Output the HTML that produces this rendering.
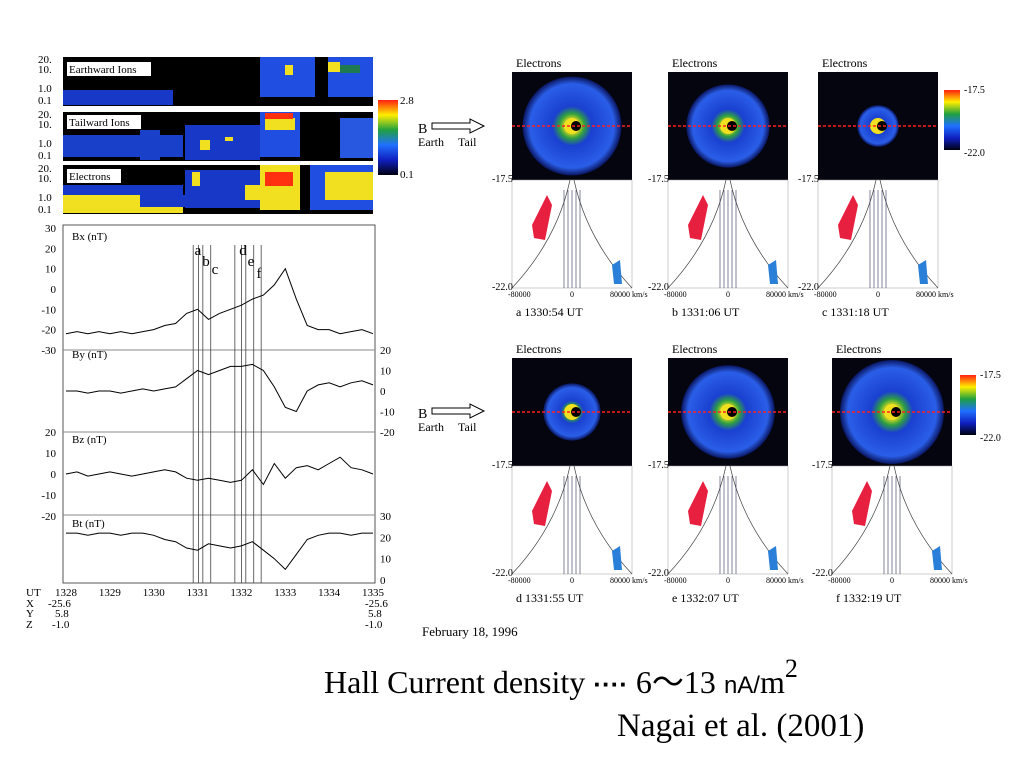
<!DOCTYPE html>
<html><head><meta charset="utf-8"><style>
body{margin:0;background:#fff;width:1024px;height:768px;overflow:hidden;font-family:"Liberation Serif",serif}
svg{position:absolute;left:0;top:0}
</style></head><body>
<svg width="1024" height="768" viewBox="0 0 1024 768" font-family="Liberation Serif, serif">
<defs>
<radialGradient id="disc" cx="50%" cy="50%" r="50%">
<stop offset="0" stop-color="#000"/><stop offset="0.12" stop-color="#f0e020"/><stop offset="0.25" stop-color="#30a040"/><stop offset="0.4" stop-color="#1a40d0"/><stop offset="0.85" stop-color="#2a5ee8"/><stop offset="1" stop-color="#0a1660"/>
</radialGradient>
<linearGradient id="cbar" x1="0" y1="0" x2="0" y2="1">
<stop offset="0" stop-color="#ff2010"/><stop offset="0.2" stop-color="#ffee00"/><stop offset="0.4" stop-color="#20a040"/><stop offset="0.6" stop-color="#2070ff"/><stop offset="0.8" stop-color="#1020c0"/><stop offset="1" stop-color="#000010"/>
</linearGradient>
</defs>
<g id="spec"></g>
<g font-size="11" fill="#000">
<text x="38" y="63">20.</text><text x="38" y="73">10.</text><text x="38" y="92">1.0</text><text x="38" y="104">0.1</text>
<text x="38" y="118">20.</text><text x="38" y="128">10.</text><text x="38" y="147">1.0</text><text x="38" y="159">0.1</text>
<text x="38" y="172">20.</text><text x="38" y="182">10.</text><text x="38" y="201">1.0</text><text x="38" y="213">0.1</text>
</g>
<g font-size="11">
<rect x="67" y="62" width="84" height="14" fill="#fff"/><text x="69" y="73">Earthward Ions</text>
<rect x="67" y="115" width="74" height="14" fill="#fff"/><text x="69" y="126">Tailward Ions</text>
<rect x="67" y="169" width="54" height="14" fill="#fff"/><text x="69" y="180">Electrons</text>
</g>
<rect x="378" y="100" width="20" height="75" fill="url(#cbar)"/>
<text x="400" y="104" font-size="11">2.8</text><text x="400" y="178" font-size="11">0.1</text>
<rect x="63" y="225" width="312" height="358" fill="none" stroke="#555" stroke-width="1"/>
<g id="mag"></g>
<g font-size="11">
<text x="26" y="596">UT</text><text x="26" y="607">X</text><text x="26" y="617">Y</text><text x="26" y="628">Z</text>
<text x="48" y="607">-25.6</text><text x="55" y="617">5.8</text><text x="52" y="628">-1.0</text>
<text x="365" y="607">-25.6</text><text x="368" y="617">5.8</text><text x="365" y="628">-1.0</text>
</g>
<text x="422" y="636" font-size="13">February 18, 1996</text>
<g id="panels"></g>
<g font-size="14">
<text x="418" y="133">B</text><path d="M432 123h38v-4l14 7-14 7v-4h-38z" fill="#fff" stroke="#000"/><text x="418" y="146" font-size="12">Earth</text><text x="458" y="146" font-size="12">Tail</text>
<text x="418" y="418">B</text><path d="M432 408h38v-4l14 7-14 7v-4h-38z" fill="#fff" stroke="#000"/><text x="418" y="431" font-size="12">Earth</text><text x="458" y="431" font-size="12">Tail</text>
</g>
<text x="324" y="693" font-size="32">Hall Current density <tspan font-family="Liberation Sans, sans-serif" font-size="26" font-weight="bold">····</tspan> 6～13 <tspan font-family="Liberation Sans, sans-serif" font-size="24">nA/</tspan>m<tspan dy="-16" font-size="26">2</tspan></text>
<text x="617" y="736" font-size="33">Nagai et al. (2001)</text>
</svg>
<script>
const NS='http://www.w3.org/2000/svg';
function mk(p,t,a){const e=document.createElementNS(NS,t);for(const k in a)e.setAttribute(k,a[k]);p.appendChild(e);return e;}
// ---- spectrograms ----
const spec=document.getElementById('spec');
const strips=[57,112,165];
[0,1,2].forEach(i=>{mk(spec,'rect',{x:63,y:strips[i],width:310,height:49,fill:'#000'});});
const blocks=[
[0,63,90,110,15,'#1838c8'],[0,260,57,55,40,'#1f4ee0'],[0,285,65,8,10,'#f0e020'],[0,328,57,45,40,'#1f4ee0'],[0,328,62,12,10,'#f0e020'],[0,340,65,20,8,'#207a50'],
[1,63,135,120,22,'#1840c8'],[1,140,130,20,30,'#1840c8'],[1,185,125,75,35,'#1838c8'],[1,200,140,10,10,'#f0e020'],[1,225,137,8,4,'#f0e020'],[1,260,112,40,45,'#1f4ee0'],[1,265,118,30,12,'#f0e020'],[1,265,113,28,6,'#ff3010'],[1,340,118,33,40,'#2858e0'],
[2,63,195,120,18,'#f0e020'],[2,63,185,120,10,'#1838c8'],[2,140,195,50,12,'#1838c8'],[2,185,170,75,38,'#1838c8'],[2,192,172,8,14,'#f0e020'],[2,245,185,25,15,'#f0e020'],[2,260,165,40,45,'#f0e020'],[2,265,172,28,14,'#ff3010'],[2,310,165,63,45,'#1f4ee0'],[2,325,172,48,28,'#f0e020']];
blocks.forEach(b=>{mk(spec,'rect',{x:b[1],y:b[2],width:b[3],height:b[4],fill:b[5]});});
// ---- magnetic field ----
const times=[1328,1328.25,1328.5,1328.75,1329,1329.25,1329.5,1329.75,1330,1330.25,1330.5,1330.75,1331,1331.25,1331.5,1331.75,1332,1332.25,1332.5,1332.75,1333,1333.25,1333.5,1333.75,1334,1334.25,1334.5,1334.75,1335];
const bx=[-22,-21,-22,-21,-22,-21,-22,-21,-20,-18,-17,-12,-10,-15,-12,-10,-8,-5,-3,2,10,-5,-18,-20,-20,-22,-21,-20,-22];
const by=[0,0,-1,0,0,-1,0,1,0,1,2,6,10,8,10,12,12,13,10,2,-8,-10,0,3,4,2,4,5,3];
const bz=[0,1,-1,0,1,0,-1,0,1,2,1,-2,-3,-2,-3,-4,-3,2,-5,5,-2,3,4,2,5,8,3,2,0];
const bt=[22,22,21,22,22,21,22,22,21,19,18,15,14,17,16,15,16,18,14,10,5,12,19,21,22,22,21,22,22];
const xTicks=[1328,1329,1330,1331,1332,1333,1334,1335];
const lineTimes=[1330.9,1331.12,1331.3,1331.85,1332.1,1332.28,1332.45,1331.02,1332.0];
const mag=document.getElementById('mag');
const X=t=>66+(t-1328)*(373-66)/7;
const panelsY=[{d:bx,y0:289,s:2.03,lab:'Bx (nT)',ly:240,ticks:[30,20,10,0,-10,-20,-30],side:'L'},
{d:by,y0:391,s:2.05,lab:'By (nT)',ly:358,ticks:[20,10,0,-10,-20],side:'R'},
{d:bz,y0:474,s:2.1,lab:'Bz (nT)',ly:443,ticks:[20,10,0,-10,-20],side:'L'},
{d:bt,y0:580,s:2.13,lab:'Bt (nT)',ly:527,ticks:[30,20,10,0],side:'R'}];
[350,432,515].forEach(y=>mk(mag,'line',{x1:63,x2:375,y1:y,y2:y,stroke:'#888'}));
lineTimes.forEach(t=>mk(mag,'line',{x1:X(t),x2:X(t),y1:245,y2:583,stroke:'#444','stroke-width':0.8}));
panelsY.forEach(p=>{
  let d='';p.d.forEach((v,i)=>{d+=(i?'L':'M')+X(times[i]).toFixed(1)+' '+(p.y0-v*p.s).toFixed(1);});
  const pa=mk(mag,'path',{d:d,fill:'none',stroke:'#000','stroke-width':1});
  
  
  const t=mk(mag,'text',{x:72,y:p.ly,'font-size':11});t.textContent=p.lab;
  p.ticks.forEach(v=>{const tx=mk(mag,'text',{x:p.side=='L'?56:380,y:p.y0-v*p.s+4,'font-size':11,'text-anchor':p.side=='L'?'end':'start'});tx.textContent=v;});
});
xTicks.forEach(t=>{const tx=mk(mag,'text',{x:X(t),y:596,'font-size':11,'text-anchor':'middle'});tx.textContent=t;});
['a','b','c','d','e','f'].forEach((c,i)=>{const pos=[[198,255],[206,266],[215,274],[243,255],[251,266],[259,278]][i];const tx=mk(mag,'text',{x:pos[0],y:pos[1],'font-size':15,'text-anchor':'middle'});tx.textContent=c;});
// ---- electron panels ----
const pan=document.getElementById('panels');
const pX=[512,668,818,512,668,832];
const pY=[72,72,72,358,358,358];
const sizes=[0.95,0.8,0.4,0.55,0.9,1.0];
const labels=['a  1330:54 UT','b  1331:06 UT','c  1331:18 UT','d  1331:55 UT','e  1332:07 UT','f  1332:19 UT'];
labels.forEach((lab,i)=>{
  const x=pX[i],y=pY[i],w=120,h=108;
  const g=mk(pan,'g',{});
  
  
  mk(g,'text',{x:x+4,y:y-5,'font-size':12}).textContent='Electrons';
  mk(g,'rect',{x:x,y:y,width:w,height:h,fill:'#050510'});
  mk(g,'circle',{cx:x+w/2,cy:y+h/2,r:52*sizes[i],fill:'url(#disc)'});
  mk(g,'circle',{cx:x+w/2,cy:y+h/2,r:8,fill:'#f0e020'});
  mk(g,'circle',{cx:x+w/2+4,cy:y+h/2,r:5,fill:'#000'});
  mk(g,'line',{x1:x,x2:x+w,y1:y+h/2,y2:y+h/2,stroke:'#ff2020','stroke-dasharray':'3,2','stroke-width':1.5});
  const by2=y+h, bh=108;
  mk(g,'rect',{x:x,y:by2,width:w,height:bh,fill:'#fff',stroke:'#999','stroke-width':0.5});
  mk(g,'path',{d:`M${x} ${by2+bh}Q${x+45} ${by2+60} ${x+58} ${by2}M${x+w} ${by2+bh}Q${x+75} ${by2+60} ${x+62} ${by2}`,fill:'none',stroke:'#444','stroke-width':0.7});
  for(let k=0;k<5;k++)mk(g,'line',{x1:x+52+k*4,x2:x+52+k*4,y1:by2+10,y2:by2+bh,stroke:'#335','stroke-width':0.6});
  mk(g,'path',{d:`M${x+20} ${by2+45}L${x+35} ${by2+15}L${x+40} ${by2+25}L${x+33} ${by2+60}L${x+22} ${by2+58}Z`,fill:'#e82040'});
  mk(g,'path',{d:`M${x+100} ${by2+85}L${x+108} ${by2+80}L${x+110} ${by2+104}L${x+102} ${by2+104}Z`,fill:'#2a80d8'});
  mk(g,'text',{x:x-20,y:y+h+2,'font-size':10}).textContent='-17.5';
  mk(g,'text',{x:x-20,y:by2+bh+2,'font-size':10}).textContent='-22.0';
  mk(g,'text',{x:x-4,y:by2+bh+9,'font-size':8}).textContent='-80000';
  mk(g,'text',{x:x+58,y:by2+bh+9,'font-size':8}).textContent='0';
  mk(g,'text',{x:x+98,y:by2+bh+9,'font-size':8}).textContent='80000 km/s';
  mk(g,'text',{x:x+4,y:by2+bh+28,'font-size':12}).textContent=lab;
});
[[944,90],[960,375]].forEach(p=>{const r=mk(pan,'rect',{x:p[0],y:p[1],width:16,height:60,fill:'url(#cbar)'});


mk(pan,'text',{x:p[0]+20,y:p[1]+3,'font-size':10}).textContent='-17.5';
mk(pan,'text',{x:p[0]+20,y:p[1]+66,'font-size':10}).textContent='-22.0';});
</script>
</body></html>
